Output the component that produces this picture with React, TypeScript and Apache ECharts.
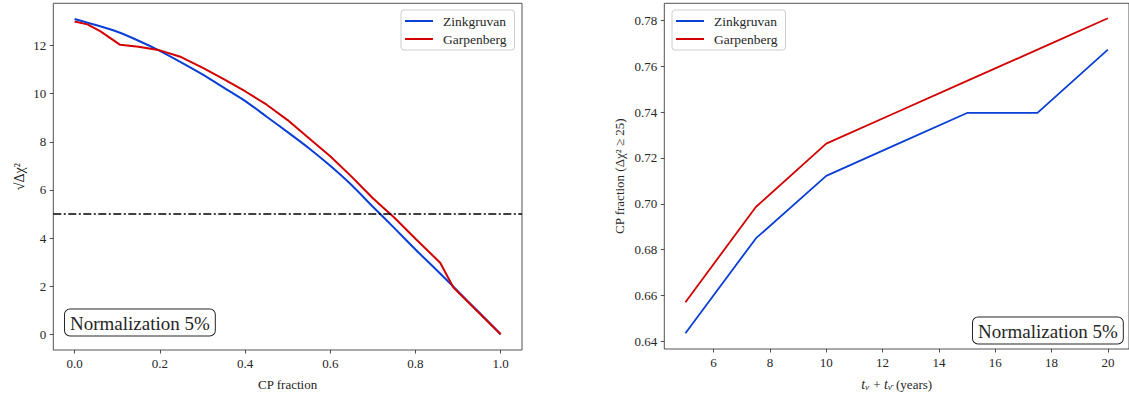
import React, { useEffect, useRef } from "react";
import * as echarts from "echarts";

// ---- Left panel data: sqrt(Δχ²) vs CP fraction ----
const zinkCpFraction = [0, 0.05, 0.1, 0.15, 0.2, 0.25, 0.3, 0.35, 0.4, 0.45, 0.5, 0.55, 0.6, 0.65, 0.7, 0.75, 0.8, 0.85, 0.9, 0.95, 1.0];
const zinkSqrtChi2 = [13.1, 12.85, 12.57, 12.2, 11.78, 11.3, 10.8, 10.25, 9.7, 9.05, 8.4, 7.73, 7.0, 6.2, 5.3, 4.42, 3.52, 2.66, 1.78, 0.89, 0.0];
const garpCpFraction = [0, 0.03, 0.06, 0.107, 0.15, 0.2, 0.25, 0.3, 0.35, 0.4, 0.45, 0.5, 0.55, 0.6, 0.65, 0.7, 0.75, 0.8, 0.858, 0.889, 0.95, 1.0];
const garpSqrtChi2 = [13.0, 12.88, 12.6, 12.03, 11.95, 11.8, 11.52, 11.08, 10.6, 10.1, 9.55, 8.9, 8.15, 7.4, 6.55, 5.65, 4.85, 3.97, 2.97, 1.94, 0.87, 0.0];
const thresholdLine = 5;
const leftXTicks = [0, 0.2, 0.4, 0.6, 0.8, 1.0];
const leftYTicks = [0, 2, 4, 6, 8, 10, 12];

// ---- Right panel data: CP fraction (Δχ² ≥ 25) vs run time ----
const runYears = [5, 7.5, 10, 12.5, 15, 17.5, 20];
const zinkCpFrac = [0.6436, 0.6849, 0.7122, 0.7259, 0.7396, 0.7396, 0.7672];
const garpCpFrac = [0.6571, 0.6986, 0.7262, 0.7399, 0.7536, 0.7672, 0.7809];
const rightXTicks = [6, 8, 10, 12, 14, 16, 18, 20];
const rightYTicks = [0.64, 0.66, 0.68, 0.7, 0.72, 0.74, 0.76, 0.78];

const seriesNames = ["Zinkgruvan", "Garpenberg"];
const BLUE = "#0a3fd6";
const RED = "#d20000";
const FONT = "'Liberation Serif', 'DejaVu Serif', serif";
const AX = "#262626";

const pairs = (xs: number[], ys: number[]) => xs.map((x, i) => [x, ys[i]]);

export default function App() {
  const ref = useRef<HTMLDivElement>(null);
  useEffect(() => {
    if (!ref.current) return;
    const chart = echarts.init(ref.current, undefined, { renderer: "svg" });
    const tickLabel = { fontFamily: FONT, fontSize: 13, color: AX };
    const baseAxis = {
      type: "value" as const,
      axisLine: { show: false, onZero: false },
      splitLine: { show: false },
      axisTick: { show: true, length: 3.5, lineStyle: { color: AX, width: 0.8 } },
    };
    const legendBase = {
      orient: "vertical" as const,
      icon: "rect",
      itemWidth: 28,
      itemHeight: 2,
      itemGap: 4,
      padding: [4, 8, 4, 4],
      backgroundColor: "#fff",
      borderColor: "#cccccc",
      borderWidth: 1,
      borderRadius: 3,
      textStyle: { fontFamily: FONT, fontSize: 13.5, color: AX, padding: [0, 0, 0, 5] },
      data: seriesNames,
    };
    const boxText = {
      text: "Normalization 5%",
      fontFamily: FONT,
      fontSize: 19,
      fill: AX,
      backgroundColor: "#fff",
      borderColor: AX,
      borderWidth: 1,
      borderRadius: 5,
      padding: [4, 5, 3, 5],
    };
    chart.setOption({
      animation: false,
      grid: [
        { left: 53.3, top: 3.3, width: 468.7, height: 350, show: true, borderColor: AX, borderWidth: 0.8, backgroundColor: "transparent" },
        { left: 664.3, top: 3.3, width: 469.3, height: 350, show: true, borderColor: AX, borderWidth: 0.8, backgroundColor: "transparent" },
      ],
      xAxis: [
        {
          ...baseAxis,
          gridIndex: 0,
          min: -0.05,
          max: 1.05,
          axisTick: { ...baseAxis.axisTick, customValues: leftXTicks },
          axisLabel: { ...tickLabel, margin: 7, customValues: leftXTicks, formatter: (v: number) => v.toFixed(1) },
          name: "CP fraction",
          nameLocation: "middle",
          nameGap: 28,
          nameTextStyle: { fontFamily: FONT, fontSize: 13, color: AX },
        },
        {
          ...baseAxis,
          gridIndex: 1,
          min: 4.25,
          max: 20.75,
          axisTick: { ...baseAxis.axisTick, customValues: rightXTicks },
          axisLabel: { ...tickLabel, margin: 7, customValues: rightXTicks, formatter: (v: number) => String(v) },
          name: "{i|t}{s|ν} + {i|t}{s|ν̄} (years)",
          nameLocation: "middle",
          nameGap: 28,
          nameTextStyle: {
            fontFamily: FONT,
            fontSize: 13,
            color: AX,
            rich: {
              i: { fontFamily: FONT, fontSize: 14, fontStyle: "italic", color: AX },
              s: { fontFamily: FONT, fontSize: 9, fontStyle: "italic", color: AX, padding: [5, 1, 0, 0] },
            },
          },
        },
      ],
      yAxis: [
        {
          ...baseAxis,
          gridIndex: 0,
          min: -0.655,
          max: 13.755,
          axisTick: { ...baseAxis.axisTick, customValues: leftYTicks },
          axisLabel: { ...tickLabel, margin: 7, customValues: leftYTicks, formatter: (v: number) => String(v) },
          name: "√Δχ²",
          nameLocation: "middle",
          nameRotate: 90,
          nameGap: 27,
          nameTextStyle: { fontFamily: FONT, fontSize: 14, color: AX },
        },
        {
          ...baseAxis,
          gridIndex: 1,
          min: 0.6367,
          max: 0.7874,
          axisTick: { ...baseAxis.axisTick, customValues: rightYTicks },
          axisLabel: { ...tickLabel, margin: 7, customValues: rightYTicks, formatter: (v: number) => v.toFixed(2) },
          name: "CP fraction (Δχ² ≥ 25)",
          nameLocation: "middle",
          nameRotate: 90,
          nameGap: 38,
          nameTextStyle: { fontFamily: FONT, fontSize: 13, color: AX },
        },
      ],
      legend: [
        { ...legendBase, left: 401, top: 10 },
        { ...legendBase, left: 672, top: 10 },
      ],
      series: [
        {
          name: seriesNames[0],
          type: "line",
          xAxisIndex: 0,
          yAxisIndex: 0,
          symbol: "none",
          smooth: 0.2,
          data: pairs(zinkCpFraction, zinkSqrtChi2),
          lineStyle: { color: BLUE, width: 2 },
          itemStyle: { color: BLUE },
          markLine: {
            silent: true,
            symbol: "none",
            label: { show: false },
            lineStyle: { color: "#000", width: 1.6, type: [8, 2.5, 2, 2.5] },
            data: [{ yAxis: thresholdLine }],
          },
          z: 3,
        },
        {
          name: seriesNames[1],
          type: "line",
          xAxisIndex: 0,
          yAxisIndex: 0,
          symbol: "none",
          data: pairs(garpCpFraction, garpSqrtChi2),
          lineStyle: { color: RED, width: 2 },
          itemStyle: { color: RED },
          z: 4,
        },
        {
          name: seriesNames[0],
          type: "line",
          xAxisIndex: 1,
          yAxisIndex: 1,
          symbol: "none",
          data: pairs(runYears, zinkCpFrac),
          lineStyle: { color: BLUE, width: 1.8 },
          itemStyle: { color: BLUE },
        },
        {
          name: seriesNames[1],
          type: "line",
          xAxisIndex: 1,
          yAxisIndex: 1,
          symbol: "none",
          data: pairs(runYears, garpCpFrac),
          lineStyle: { color: RED, width: 1.8 },
          itemStyle: { color: RED },
        },
      ],
      graphic: [
        { type: "text", left: 64, top: 308.5, style: { ...boxText } },
        { type: "text", left: 972, top: 316.5, style: { ...boxText } },
      ],
    });
    return () => chart.dispose();
  }, []);
  return <div ref={ref} style={{ position: "absolute", left: 0, top: 0, width: 1129, height: 396 }} />;
}
